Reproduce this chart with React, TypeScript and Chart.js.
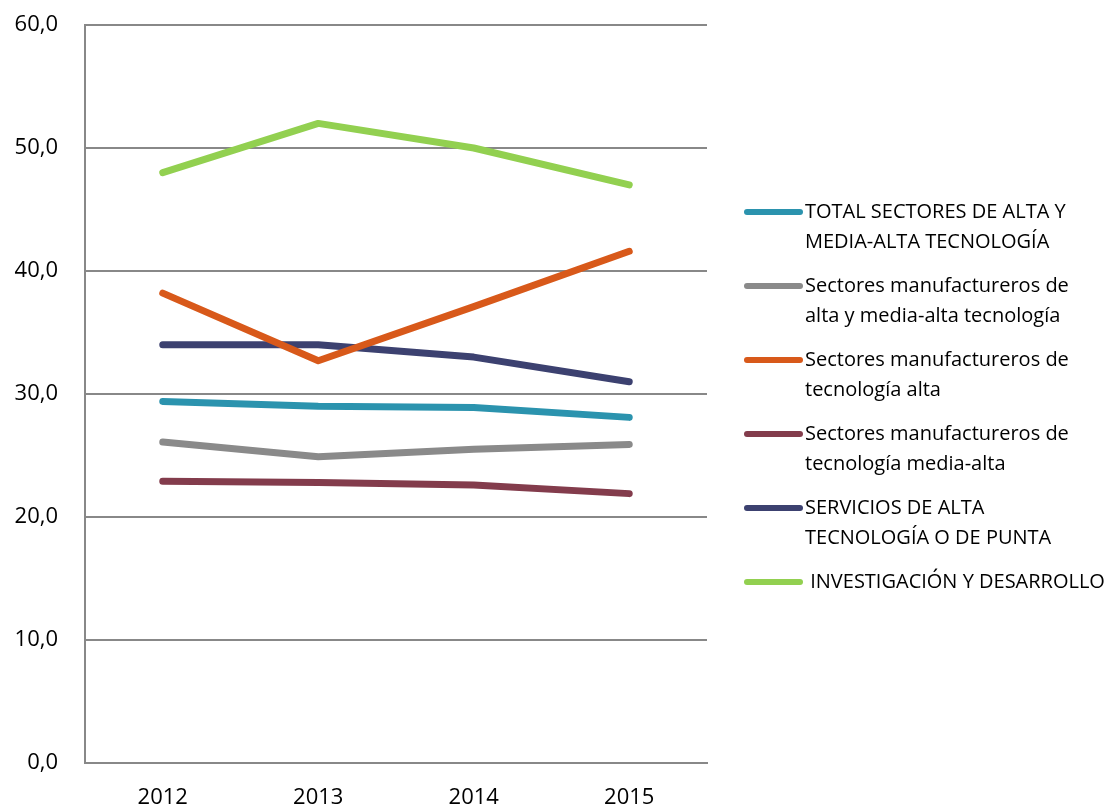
import React, { useEffect, useRef } from "react";
import { Chart, registerables } from "chart.js";

Chart.register(...registerables);

const years = ["2012", "2013", "2014", "2015"];
const totalAltaMedia = [29.4, 29.0, 28.9, 28.1];
const manufAltaMedia = [26.1, 24.9, 25.5, 25.9];
const manufAlta = [38.2, 32.7, 37.1, 41.6];
const manufMediaAlta = [22.9, 22.8, 22.6, 21.9];
const serviciosAlta = [34.0, 34.0, 33.0, 31.0];
const investigacion = [48.0, 52.0, 50.0, 47.0];

const seriesNames = [
  ["TOTAL SECTORES DE ALTA Y", "MEDIA-ALTA TECNOLOGÍA"],
  ["Sectores manufactureros de", "alta y media-alta tecnología"],
  ["Sectores manufactureros de", "tecnología alta"],
  ["Sectores manufactureros de", "tecnología media-alta"],
  ["SERVICIOS DE ALTA", "TECNOLOGÍA O DE PUNTA"],
  [" INVESTIGACIÓN Y DESARROLLO"],
];
const seriesData = [totalAltaMedia, manufAltaMedia, manufAlta, manufMediaAlta, serviciosAlta, investigacion];
const seriesColors = ["#2B93AE", "#8A8A8A", "#D8591A", "#833C4C", "#3C4170", "#92D050"];

const FONT = "'Open Sans', sans-serif";

const legendPlugin = {
  id: "sideLegend",
  afterDraw(chart: any) {
    const ctx = chart.ctx;
    ctx.save();
    ctx.font = `20px ${FONT}`;
    ctx.textBaseline = "middle";
    ctx.textAlign = "left";
    let y = 212;
    seriesNames.forEach((lines, i) => {
      ctx.strokeStyle = seriesColors[i];
      ctx.lineWidth = 6;
      ctx.lineCap = "round";
      ctx.beginPath();
      ctx.moveTo(747, y);
      ctx.lineTo(800, y);
      ctx.stroke();
      ctx.fillStyle = "#000";
      lines.forEach((t, j) => {
        ctx.fillText(t, 805, y + j * 30);
      });
      y += 74;
    });
    ctx.restore();
  },
};

export default function App() {
  const ref = useRef<HTMLCanvasElement>(null);
  useEffect(() => {
    const chart = new Chart(ref.current!, {
      type: "line",
      data: {
        labels: years,
        datasets: seriesData.map((d, i) => ({
          label: seriesNames[i].join(" "),
          data: d,
          borderColor: seriesColors[i],
          backgroundColor: seriesColors[i],
          borderWidth: 7,
          borderCapStyle: "round" as const,
          borderJoinStyle: "round" as const,
          pointRadius: 0,
          tension: 0,
        })),
      },
      options: {
        animation: false,
        responsive: false,
        maintainAspectRatio: false,
        layout: { padding: { top: 25, right: 413, left: 0, bottom: 0 } },
        plugins: { legend: { display: false }, tooltip: { enabled: false } },
        scales: {
          x: {
            offset: true,
            grid: { display: false, drawTicks: false },
            border: { display: true, color: "#888", width: 2 },
            ticks: { color: "#000", font: { family: FONT, size: 22 }, padding: 22 },
            afterFit: (s: any) => { s.height = 45; s.paddingLeft = 0; s.paddingRight = 0; },
          },
          y: {
            min: 0,
            max: 60,
            grid: { color: "#888", lineWidth: 2, drawTicks: false },
            border: { display: true, color: "#888", width: 2 },
            ticks: {
              stepSize: 10,
              color: "#000",
              padding: 27,
              font: { family: FONT, size: 22 },
              callback: (v: any) => Number(v).toFixed(1).replace(".", ","),
            },
            afterFit: (s: any) => { s.width = 85; s.paddingTop = 0; s.paddingBottom = 0; },
          },
        },
      },
      plugins: [legendPlugin],
    });
    return () => chart.destroy();
  }, []);
  return (
    <div style={{ position: "fixed", left: 0, top: 0, width: 1120, height: 808, background: "#fff" }}>
      <canvas ref={ref} width={1120} height={808} style={{ width: 1120, height: 808 }} />
    </div>
  );
}
